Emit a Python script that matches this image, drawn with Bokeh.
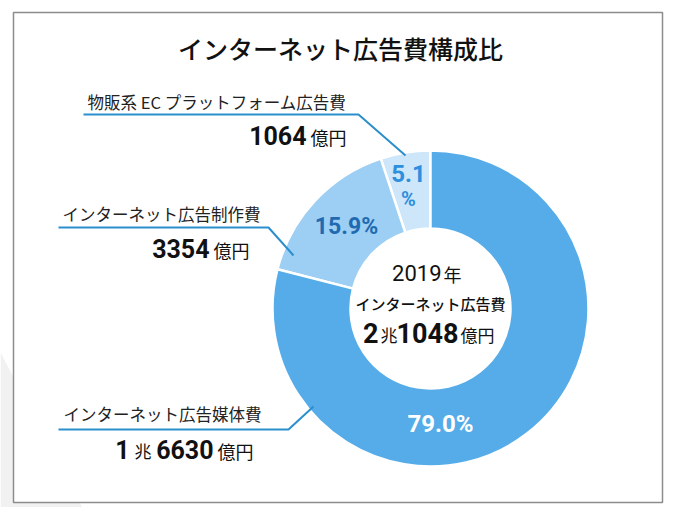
import numpy as np
from bokeh.plotting import figure
from bokeh.models import Range1d
from bokeh.core.properties import value
from bokeh.embed import file_html
from bokeh.resources import INLINE

# ---------------- data ----------------
title = "インターネット広告費構成比"
categories = ["物販系 EC プラットフォーム広告費", "インターネット広告制作費", "インターネット広告媒体費"]
shares = [5.1, 15.9, 79.0]                 # percent, drawn anticlockwise from 12 o'clock
amount_cho = ["", "", "1"]                  # 兆
amount_oku = ["1064", "3354", "6630"]       # 億円
share_labels = ["5.1", "15.9%", "79.0%"]
total_year = "2019"
total_title = "インターネット広告費"
total_cho = "2"
total_oku = "1048"
slice_colors = ["#cde6f9", "#9ccff3", "#55ace9"]
label_colors = ["#2d8fdd", "#1f6ab0", "#ffffff"]

# ---------------- layout helpers ----------------
W, H = 671, 507
def Y(sy):
    return 515 - sy

JP = value("Noto Sans CJK JP")
JPM = value("'Noto Sans CJK JP Medium', 'Noto Sans CJK JP'")
NUM = value("Roboto")

p = figure(width=W, height=H, x_range=Range1d(0, W), y_range=Range1d(515 - H, 515),
           output_backend="svg", toolbar_location=None, min_border=0,
           x_axis_type=None, y_axis_type=None)
p.grid.visible = False
p.outline_line_color = None
p.background_fill_color = "white"
p.border_fill_color = "white"

# background decoration
p.patch([0, 86, 0], [Y(352), Y(515), Y(515)], fill_color="#f1f1f1", line_color=None)
# frame
p.quad(left=13, right=662, top=Y(12), bottom=Y(502), fill_color="white",
       line_color="#8c8c8c", line_width=1.5)

# ---------------- donut ----------------
cx, cy = 430, Y(308)
sh = np.array(shares)
ends = 90 + np.cumsum(sh) * 3.6
starts = ends - sh * 3.6
p.annular_wedge(x=cx, y=cy, inner_radius=80, outer_radius=158,
                start_angle=starts, end_angle=ends,
                start_angle_units="deg", end_angle_units="deg",
                fill_color=slice_colors, line_color="white", line_width=2.5)

# leader lines
lx = [[83, 358, 405], [58, 268, 293], [58, 288, 313]]
ly = [[114, 114, 155], [227, 227, 255], [429, 429, 406]]
p.multi_line(xs=lx, ys=[[Y(v) for v in l] for l in ly], line_color="#2a8fcc", line_width=2)

# ---------------- texts ----------------
def txt(x, y, t, size, font=JP, color="#1a1a1a", align="left", weight="normal"):
    p.text(x=[x], y=[Y(y)], text=[t], text_font=font, text_font_size=size,
           text_color=color, text_align=align, text_baseline="middle",
           text_font_style=weight)

txt(340, 47, title, "25px", font=JPM, align="center", color="#111111")

cat_pos = [(87, 101), (62, 213), (63, 413)]
for (x, y), c in zip(cat_pos, categories):
    txt(x, y, c, "16.5px", color="#222222")

# amounts
amt_pos = [(306, 135), (209, 248), (213, 449)]
for (x, y), cho, oku in zip(amt_pos, amount_cho, amount_oku):
    txt(x, y, oku, "25px", font=NUM, align="right", weight="bold", color="#111111")
    txt(x + 4, y + 1, "億円", "18px", color="#111111")
    if cho:
        txt(x - 79, y + 1, "兆", "17px", color="#111111")
        txt(x - 84, y, cho, "25px", font=NUM, align="right", weight="bold", color="#111111")

# centre
txt(441, 272, total_year, "22px", font=NUM, align="right", color="#111111")
txt(443, 273, "年", "18px", color="#111111")
txt(430, 303, total_title, "15px", font=JPM, align="center", color="#111111")
txt(378, 332, total_cho, "27px", font=NUM, align="right", weight="bold", color="#111111")
txt(380, 334, "兆", "17px", color="#111111")
txt(458, 332, total_oku, "27px", font=NUM, align="right", weight="bold", color="#111111")
txt(460, 334, "億円", "17px", color="#111111")

# share labels
txt(408, 173, share_labels[0], "24px", font=NUM, align="center", weight="bold", color=label_colors[0])
txt(408, 198, "%", "20px", font=NUM, align="center", weight="bold", color=label_colors[0])
txt(346, 226, share_labels[1], "23px", font=NUM, align="center", weight="bold", color=label_colors[1])
txt(440, 423, share_labels[2], "24px", font=NUM, align="center", weight="bold", color=label_colors[2])

open("out.html", "w").write(file_html(p, INLINE))
